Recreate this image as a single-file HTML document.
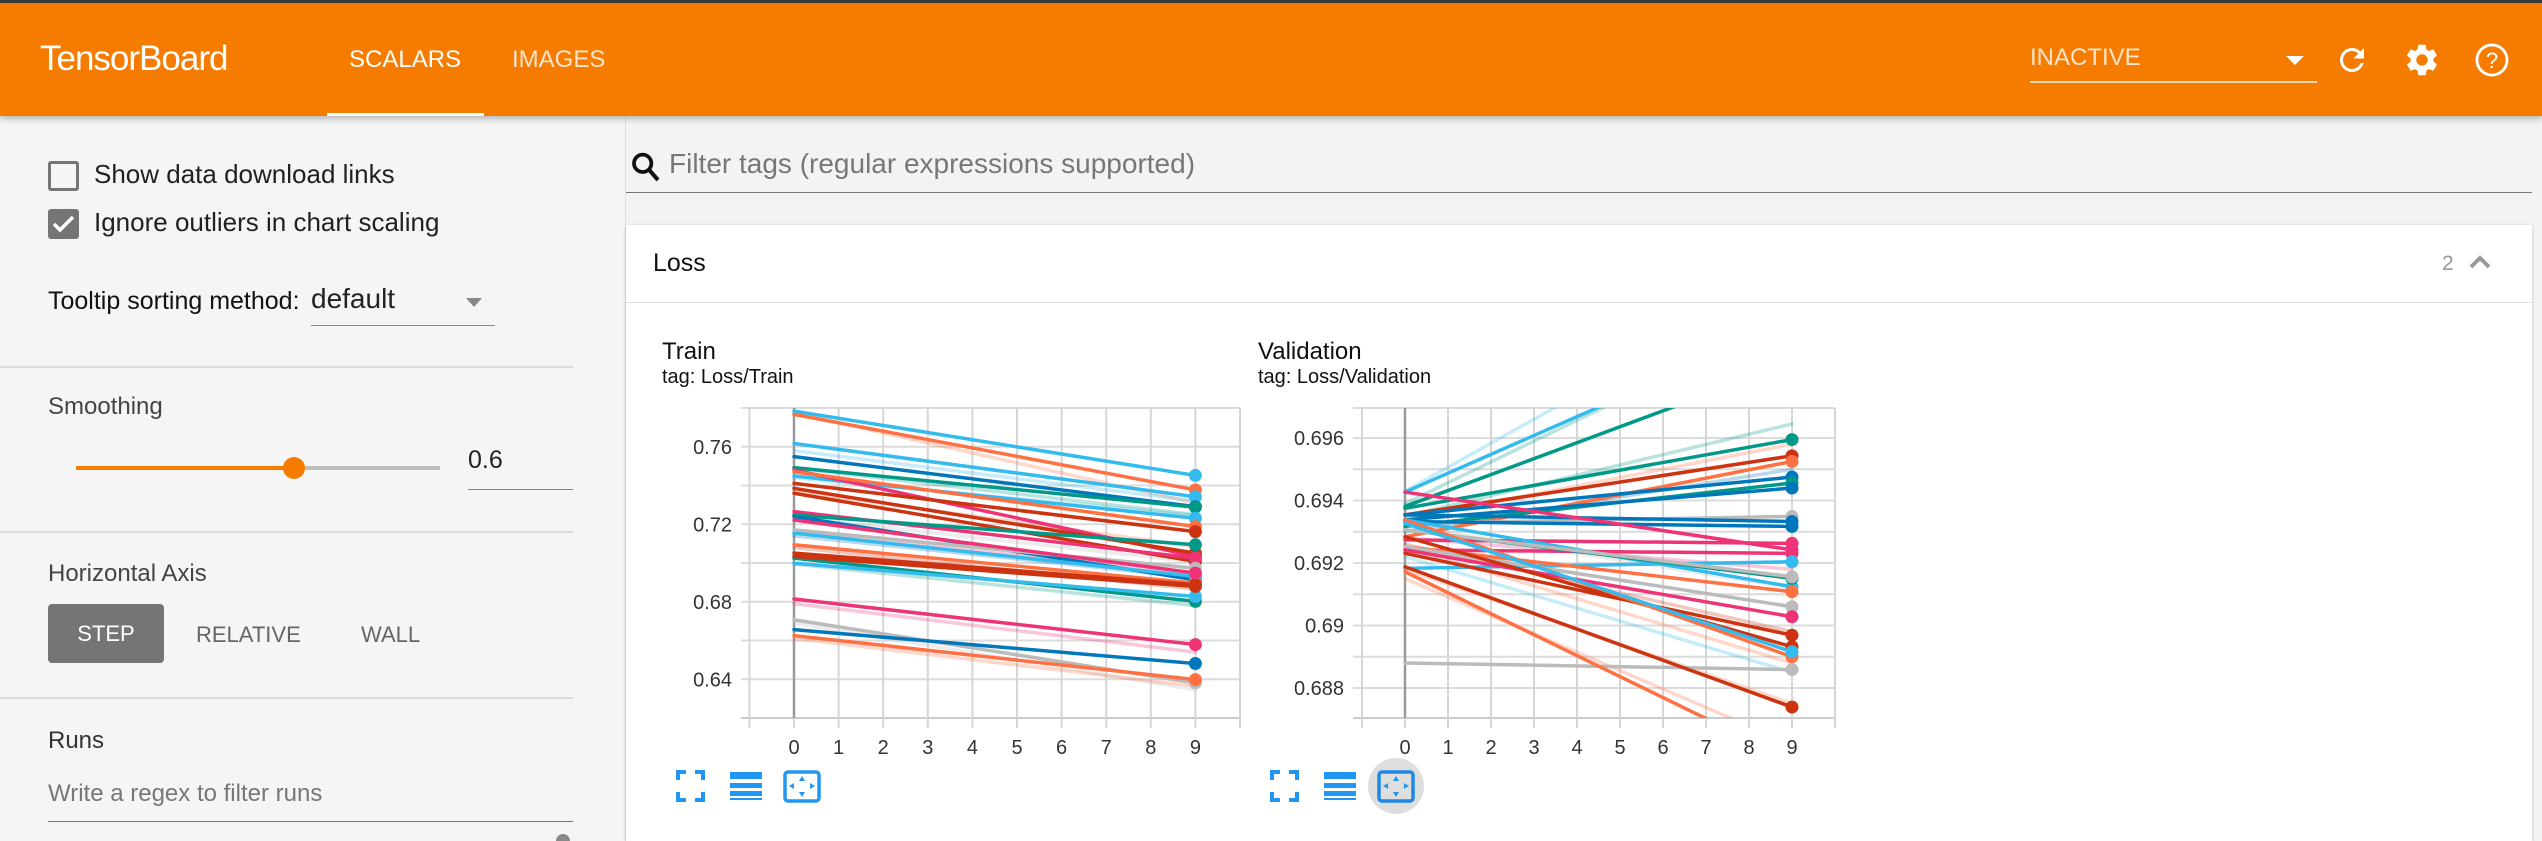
<!DOCTYPE html>
<html style="width:2542px;height:841px;overflow:hidden"><head><meta charset="utf-8"><style>
*{box-sizing:border-box;margin:0;padding:0}
body{width:2542px;height:841px;overflow:hidden;background:#f3f3f3;font-family:"Liberation Sans",sans-serif;position:relative}
.a{position:absolute;white-space:nowrap}
</style></head><body>
<div class="a" style="left:0;top:0;width:2542px;height:3px;background:#3a3a3a"></div>
<div class="a" style="left:0;top:3px;width:2542px;height:113px;background:#f57c00;box-shadow:0 3px 6px rgba(0,0,0,.25);z-index:2">
  <div class="a" style="left:40px;top:36px;font-size:35px;color:#fff;letter-spacing:-1px">TensorBoard</div>
  <div class="a" style="left:349px;top:43px;font-size:24px;color:#fff">SCALARS</div>
  <div class="a" style="left:327px;top:110px;width:157px;height:3px;background:#fff"></div>
  <div class="a" style="left:512px;top:43px;font-size:24px;color:#fde5cc">IMAGES</div>
  <div class="a" style="left:2030px;top:40px;width:287px;height:40px;border-bottom:2px solid #fdd9b5">
    <span class="a" style="left:0;top:1px;font-size:24px;color:#fde5cc">INACTIVE</span>
    <span class="a" style="left:256px;top:13px;width:0;height:0;border-left:9px solid transparent;border-right:9px solid transparent;border-top:9px solid #fff"></span>
  </div>
  <svg class="a" style="left:2334px;top:39px" width="36" height="36" viewBox="0 0 24 24"><path fill="#fff" d="M17.65 6.35A7.96 7.96 0 0 0 12 4a8 8 0 1 0 7.73 10h-2.08A6 6 0 1 1 12 6c1.66 0 3.14.69 4.22 1.78L13 11h7V4l-2.350 2.35z"/></svg>
  <svg class="a" style="left:2403px;top:38px" width="38" height="38" viewBox="0 0 24 24"><path fill="#fff" d="M19.14 12.94a7.1 7.1 0 0 0 0-1.88l2.03-1.58a.5.5 0 0 0 .12-.61l-1.92-3.32a.5.5 0 0 0-.59-.22l-2.39.96a7 7 0 0 0-1.62-.94l-.36-2.54A.5.5 0 0 0 13.9 2.4h-3.84a.5.5 0 0 0-.49.42l-.36 2.54a7.3 7.3 0 0 0-1.62.94l-2.39-.96a.5.5 0 0 0-.59.22L2.690 8.88a.5.5 0 0 0 .12.61l2.03 1.58a7.1 7.1 0 0 0 0 1.88l-2.03 1.58a.5.5 0 0 0-.12.61l1.92 3.32c.12.22.37.3.59.22l2.39-.96c.5.38 1.04.7 1.62.94l.36 2.54c.05.24.25.42.49.42h3.84c.24 0 .44-.18.49-.42l.36-2.54a7 7 0 0 0 1.62-.94l2.39.96c.22.08.47 0 .59-.22l1.92-3.32a.5.5 0 0 0-.12-.61l-2.03-1.58zM12 15.6A3.6 3.6 0 1 1 12 8.4a3.6 3.6 0 0 1 0 7.2z"/></svg>
  <svg class="a" style="left:2473px;top:38px" width="38" height="38" viewBox="0 0 24 24"><circle cx="12" cy="12" r="9.5" fill="none" stroke="#fff" stroke-width="1.8"/><text x="12" y="17" font-size="14" text-anchor="middle" fill="#fff" font-family="Liberation Sans">?</text></svg>
</div>

<div class="a" style="left:0;top:116px;width:626px;height:725px;background:#f5f5f5;border-right:1px solid #e0e0e0">
  <div class="a" style="left:48px;top:45px;width:31px;height:30px;border:3px solid #757575;border-radius:3px"></div>
  <div class="a" style="left:94px;top:43px;font-size:26px;color:#212121">Show data download links</div>
  <div class="a" style="left:48px;top:93px;width:31px;height:30px;background:#757575;border-radius:3px"><svg width="31" height="30" viewBox="0 0 31 30"><path d="M6 15l6 6 13-13" stroke="#fff" stroke-width="3.5" fill="none"/></svg></div>
  <div class="a" style="left:94px;top:91px;font-size:26px;color:#212121">Ignore outliers in chart scaling</div>
  <div class="a" style="left:48px;top:171px;font-size:25px;color:#111">Tooltip sorting method:</div>
  <div class="a" style="left:311px;top:165px;width:184px;height:45px;border-bottom:1.5px solid #888">
    <span class="a" style="left:0;top:2px;font-size:28px;color:#222">default</span>
    <span class="a" style="left:155px;top:17px;width:0;height:0;border-left:8px solid transparent;border-right:8px solid transparent;border-top:9px solid #888"></span>
  </div>
  <div class="a" style="left:0;top:250px;width:573px;height:2px;background:#ddd"></div>
  <div class="a" style="left:48px;top:277px;font-size:24px;color:#444">Smoothing</div>
  <div class="a" style="left:76px;top:350px;width:364px;height:4px;background:#bdbdbd"></div>
  <div class="a" style="left:76px;top:350px;width:218px;height:4px;background:#f57c00"></div>
  <div class="a" style="left:283px;top:341px;width:22px;height:22px;border-radius:50%;background:#f57c00"></div>
  <div class="a" style="left:468px;top:330px;width:105px;height:44px;border-bottom:1.5px solid #888;font-size:25px;color:#222">0.6</div>
  <div class="a" style="left:0;top:415px;width:573px;height:2px;background:#ddd"></div>
  <div class="a" style="left:48px;top:444px;font-size:24px;color:#444">Horizontal Axis</div>
  <div class="a" style="left:48px;top:488px;width:116px;height:59px;background:#757575;border-radius:4px;color:#fff;font-size:22px;text-align:center;line-height:59px">STEP</div>
  <div class="a" style="left:196px;top:506px;font-size:22px;color:#666">RELATIVE</div>
  <div class="a" style="left:361px;top:506px;font-size:22px;color:#666">WALL</div>
  <div class="a" style="left:0;top:581px;width:573px;height:2px;background:#ddd"></div>
  <div class="a" style="left:48px;top:611px;font-size:24px;color:#333">Runs</div>
  <div class="a" style="left:48px;top:664px;width:525px;height:42px;border-bottom:1.5px solid #777;font-size:24px;color:#777">Write a regex to filter runs</div>
  <div class="a" style="left:556px;top:718px;width:14px;height:7px;border-radius:7px 7px 0 0;background:#888"></div>
</div>

<svg class="a" style="left:630px;top:150px" width="32" height="36" viewBox="0 0 24 26"><circle cx="9.5" cy="9.5" r="6.5" fill="none" stroke="#111" stroke-width="2.8"/><path d="M14 14l7 8" stroke="#111" stroke-width="3"/></svg>
<div class="a" style="left:626px;top:148px;width:1906px;height:45px;border-bottom:1.5px solid #777;padding-left:43px;font-size:28px;color:#777">Filter tags (regular expressions supported)</div>

<div class="a" style="left:626px;top:225px;width:1906px;height:616px;background:#fff;box-shadow:0 1px 4px rgba(0,0,0,.2)">
  <div class="a" style="left:27px;top:24px;font-size:25px;color:#111">Loss</div>
  <div class="a" style="left:1816px;top:27px;font-size:21px;color:#999">2</div>
  <svg class="a" style="left:1842px;top:27px" width="24" height="20"><path d="M3 15l9-9 9 9" stroke="#999" stroke-width="4" fill="none"/></svg>
  <div class="a" style="left:0;top:77px;width:1906px;height:1px;background:#e0e0e0"></div>
</div>

<div class="a" style="left:662px;top:338px;font-size:24px;color:#111">Train</div>
<div class="a" style="left:662px;top:366px;font-size:20px;color:#111">tag: Loss/Train</div>
<div class="a" style="left:1258px;top:338px;font-size:24px;color:#111">Validation</div>
<div class="a" style="left:1258px;top:366px;font-size:20px;color:#111">tag: Loss/Validation</div>

<svg class="a" id="charts" style="left:0;top:0" width="2542" height="841"></svg>

<script>
// ---- Train data ----
const trainSteps = [0, 9];
const trainStart = [0.7784,0.7767,0.7617,0.7549,0.7492,0.7449,0.748,0.7471,0.7411,0.7385,0.736,0.7265,0.7248,0.724,0.7171,0.7154,0.7094,0.7051,0.7025,0.6999,0.6814,0.6707,0.6656,0.6625,0.7034,0.7222];
const trainEnd   = [0.7452,0.7377,0.7342,0.7291,0.7288,0.7231,0.7034,0.7188,0.7162,0.7051,0.7008,0.7025,0.7094,0.6913,0.6973,0.6931,0.6896,0.6888,0.6802,0.6827,0.6579,0.6381,0.6481,0.6398,0.6879,0.6948];
const trainColor = ["c","o","c","b","t","c","m","o","r","r","r","m","t","b","g","c","o","r","t","c","m","g","b","o","r","m"];
const trainRawStart = [0.7775,0.758,0.744,0.737,0.7235,0.714,0.708,0.6995,0.679,0.669,0.661,0.749,0.7155];
const trainRawEnd   = [0.731,0.732,0.7245,0.7085,0.7005,0.6925,0.6865,0.678,0.654,0.6345,0.6365,0.725,0.695];
const trainRawColor = ["o","c","c","o","g","b","r","t","m","g","o","t","m"];
const trainYTicks = [0.64,0.68,0.72,0.76];
const trainYTickLabels = ["0.64","0.68","0.72","0.76"];
// ---- Validation data ----
const valSteps = [0, 9];
const valStart = [0.69427,0.69381,0.69375,0.69354,0.69284,0.69354,0.69317,0.69338,0.69327,0.69354,0.69333,0.69427,0.69274,0.69242,0.69183,0.69338,0.69306,0.69306,0.69252,0.69252,0.69242,0.69231,0.69284,0.69338,0.69327,0.6888,0.69188,0.69172];
const valEnd   = [0.6997,0.6984,0.69595,0.69543,0.69525,0.69475,0.69456,0.6944,0.69349,0.69333,0.69317,0.69242,0.69263,0.69231,0.69204,0.69124,0.69151,0.69156,0.69108,0.6906,0.69028,0.68969,0.68932,0.689,0.68916,0.68859,0.68739,0.68568];
const valColor = ["c","t","t","r","o","b","t","b","g","b","b","m","m","m","c","c","t","g","o","g","m","r","r","o","c","g","r","o"];
const valRawStart = [0.6943,0.6939,0.6935,0.6934,0.6930,0.6928,0.6925,0.6922,0.6918,0.6915,0.6932,0.6926];
const valRawEnd   = [0.7012,0.6999,0.69645,0.6958,0.6950,0.6918,0.6888,0.6885,0.6875,0.6862,0.6912,0.6898];
const valRawColor = ["c","t","t","o","b","m","o","c","o","o","g","r"];
const valYTicks = [0.688,0.69,0.692,0.694,0.696];
const valYTickLabels = ["0.688","0.69","0.692","0.694","0.696"];
const xTicks = [0,1,2,3,4,5,6,7,8,9];
const xTickLabels = ["0","1","2","3","4","5","6","7","8","9"];

const palette = {c:"#33bbee",o:"#ff7043",b:"#0077bb",t:"#009988",r:"#cc3311",m:"#ee3377",g:"#bbbbbb"};
const NS = "http://www.w3.org/2000/svg";
const svg = document.getElementById("charts");
function mk(tag, attrs, parent){const e=document.createElementNS(NS,tag);for(const k in attrs)e.setAttribute(k,attrs[k]);(parent||svg).appendChild(e);return e;}

function drawChart(cfg){
  const g = mk("g",{});
  
  
  const xS = s => cfg.x0 + s*cfg.dx;
  const yS = v => cfg.yTop + (cfg.vTop - v)*cfg.ky;
  const left = xS(-1), right = xS(10), bottom = cfg.yTop + cfg.h;
  const minorStep = (cfg.yTicks[1]-cfg.yTicks[0])/2;
  for (let v = cfg.yTicks[0]-minorStep*4; v <= cfg.vTop+1e-9; v += minorStep) {
    const y = yS(v); if (y < cfg.yTop-1 || y > bottom+1) continue;
    const ln = mk("line",{x1:cfg.gridLeft,x2:right,y1:y,y2:y,stroke:"#dcdcdc","stroke-width":2},g);
    
    
  }
  mk("line",{x1:cfg.gridLeft,x2:right,y1:cfg.yTop,y2:cfg.yTop,stroke:"#dcdcdc","stroke-width":2},g);
  mk("line",{x1:cfg.gridLeft,x2:right,y1:bottom,y2:bottom,stroke:"#ccc","stroke-width":2},g);
  for (let s=-1;s<=10;s++){
    const x = xS(s);
    const ln = mk("line",{x1:x,x2:x,y1:cfg.yTop,y2:bottom+10,stroke:"#d6d6d6","stroke-width":2},g);
    
    
  }
  mk("line",{x1:xS(0),x2:xS(0),y1:cfg.yTop,y2:bottom,stroke:"#999","stroke-width":2.5},g);
  cfg.yTicks.forEach((v,i)=>{
    const t = mk("text",{x:cfg.labelRight,y:yS(v)+7,"text-anchor":"end","font-size":20,fill:"#333","font-family":"Liberation Sans"},g);
    t.textContent = cfg.yLabels[i];
    
    
  });
  xTicks.forEach((s,i)=>{
    const t = mk("text",{x:xS(s),y:bottom+36,"text-anchor":"middle","font-size":20,fill:"#333","font-family":"Liberation Sans"},g);
    t.textContent = xTickLabels[i];
    
    
  });
  const cid = cfg.name+"-clip";
  const defs = mk("defs",{},g);
  mk("rect",{x:left,y:cfg.yTop,width:right-left,height:cfg.h},mk("clipPath",{id:cid},defs));
  const plot = mk("g",{"clip-path":"url(#"+cid+")"},g);
  cfg.rawStart.forEach((v,i)=>{
    const p = mk("line",{x1:xS(cfg.steps[0]),y1:yS(v),x2:xS(cfg.steps[1]),y2:yS(cfg.rawEnd[i]),stroke:palette[cfg.rawColor[i]],"stroke-width":3.5,"stroke-opacity":0.28,"stroke-linecap":"round"},plot);
    
    
  });
  cfg.start.forEach((v,i)=>{
    const p = mk("line",{x1:xS(cfg.steps[0]),y1:yS(v),x2:xS(cfg.steps[1]),y2:yS(cfg.end[i]),stroke:palette[cfg.color[i]],"stroke-width":3.5,"stroke-linecap":"round"},plot);
    
    
  });
  cfg.end.forEach((v,i)=>{
    const y = yS(v); if (y < cfg.yTop || y > bottom) return;
    const c = mk("circle",{cx:xS(cfg.steps[1]),cy:y,r:6.5,fill:palette[cfg.color[i]]},g);
    
    
  });
}
drawChart({name:"train-chart",x0:794,dx:44.6,yTop:408,h:310,vTop:0.78,ky:310/0.16,gridLeft:741,labelRight:732,
  steps:trainSteps,start:trainStart,end:trainEnd,color:trainColor,rawStart:trainRawStart,rawEnd:trainRawEnd,rawColor:trainRawColor,yTicks:trainYTicks,yLabels:trainYTickLabels});
drawChart({name:"validation-chart",x0:1405,dx:43.0,yTop:408,h:310,vTop:0.69696,ky:31250,gridLeft:1353,labelRight:1344,
  steps:valSteps,start:valStart,end:valEnd,color:valColor,rawStart:valRawStart,rawEnd:valRawEnd,rawColor:valRawColor,yTicks:valYTicks,yLabels:valYTickLabels});

function toolbar(x, prefix, hover){
  const g = mk("g",{});
  
  
  if (hover) mk("ellipse",{cx:x+124,cy:786,rx:28,ry:28,fill:"#dedede"},g);
  const f = mk("path",{d:`M${x} ${780}v-8h8 M${x+17} 772h8v8 M${x+25} 792v8h-8 M${x+8} 800h-8v-8`,stroke:"#2196f3","stroke-width":4,fill:"none"},g);
  
  
  const l = mk("g",{},g);
  
  
  mk("rect",{x:x+52,y:772,width:32,height:7,fill:"#2196f3"},l);
  mk("rect",{x:x+52,y:783,width:32,height:5,fill:"#2196f3"},l);
  mk("rect",{x:x+52,y:791,width:32,height:5,fill:"#2196f3"},l);
  mk("rect",{x:x+52,y:798,width:32,height:2,fill:"#2196f3"},l);
  const b = mk("g",{},g);
  
  
  mk("rect",{x:x+107,y:772,width:34,height:29,rx:3,fill:"none",stroke:hover?"#1e88e5":"#2196f3","stroke-width":3.5},b);
  mk("path",{d:`M${x+124} 776l-3 5h6z M${x+124} 797l-3-5h6z M${x+111} 786l5-3v6z M${x+137} 786l-5-3v6z`,fill:"#2196f3"},b);
}
toolbar(678,"train",false);
toolbar(1272,"validation",true);
</script>
</body></html>
